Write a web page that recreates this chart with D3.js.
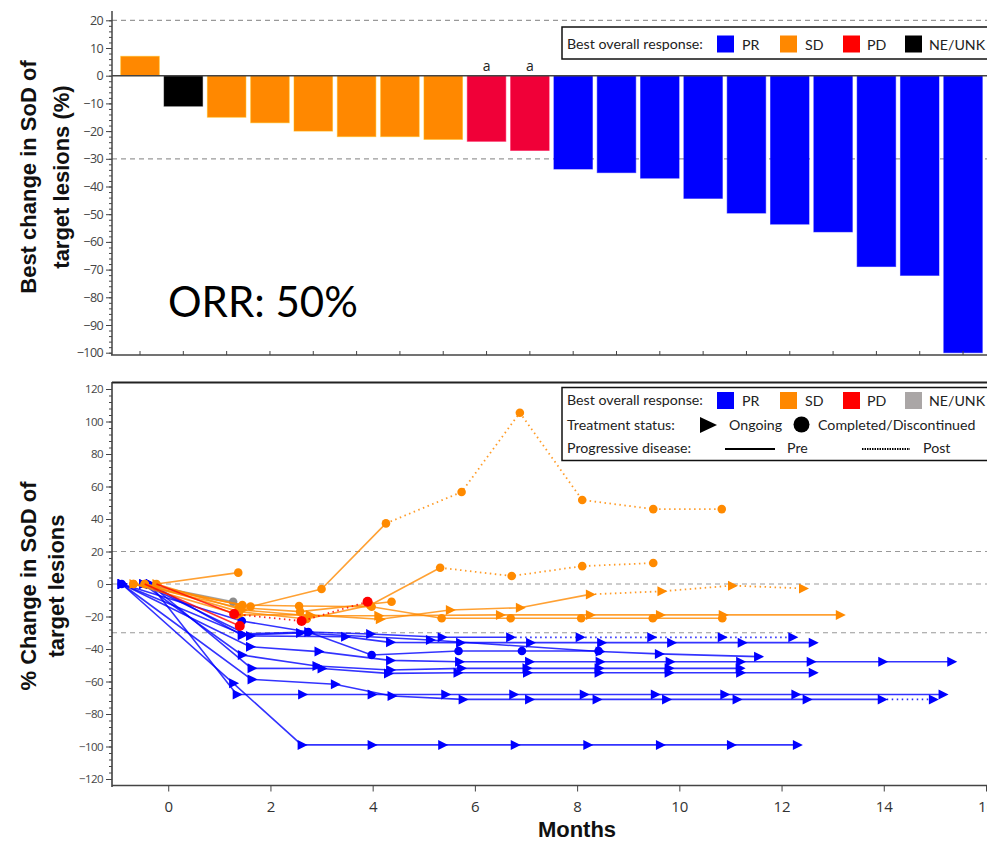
<!DOCTYPE html>
<html><head><meta charset="utf-8">
<script src="https://cdn.jsdelivr.net/npm/d3@7"></script>
<style>body{margin:0;background:#fff} svg{display:block}</style>
</head><body><svg id="c" width="987" height="841"></svg>
<script>
// ---------------- DATA ----------------
// Waterfall (best change in SoD, %)
const barPatients = d3.range(1, 21).map(d => "Pt" + d);
const barValues = [7, -11, -15, -17, -20, -22, -22, -23, -23.7, -27, -33.7, -35, -37, -44.3, -49.6, -53.6, -56.4, -68.9, -72.1, -100];
const barResponse = ["SD","NE","SD","SD","SD","SD","SD","SD","PD","PD","PR","PR","PR","PR","PR","PR","PR","PR","PR","PR"];
const barNotes = ["","","","","","","","","a","a","","","","","","","","","",""];
const topYTicks = [20, 10, 0, -10, -20, -30, -40, -50, -60, -70, -80, -90, -100];
const topRefLines = [20, -30];

// Spider plot: one small record per patient (months, % change, status, first post-PD segment index)
const prA = {resp:"PR", status:"ongoing", post:5, months:[-0.91,1.44,2.74,3.95,5.35,6.69,8.05,9.45,10.83,12.21], values:[0,-30.8,-29.5,-30.8,-32.8,-32.8,-32.8,-32.8,-32.8,-32.8]};
const prB = {resp:"PR", status:"ongoing", post:null, months:[-0.49,1.6,3.46,4.34,5.71,7.08,8.47,9.84,11.22,12.61], values:[0,-32,-32.4,-35.9,-36.1,-36.1,-36.1,-36.1,-36.1,-36.1]};
const prC = {resp:"PR", status:"done", post:null, months:[-0.91,1.44,2.74,3.98,5.68,6.92,8.42], values:[0,-22.8,-29.5,-43.7,-41.2,-41.2,-41.2]};
const prD = {resp:"PR", status:"ongoing", post:null, months:[-0.36,1.44,2.58,5.12,8.44,9.6,11.54], values:[0,-31.5,-30.2,-34.5,-41.5,-43,-44.7]};
const prE = {resp:"PR", status:"ongoing", post:null, months:[-0.91,1.6,2.94,4.34,5.69,7.06,8.44,9.81,11.19,12.57,13.97,15.32], values:[0,-38.6,-41.6,-47,-47.8,-47.8,-47.8,-47.8,-47.8,-47.8,-47.8,-47.8]};
const prF = {resp:"PR", status:"ongoing", post:null, months:[-0.49,1.44,2.9,4.34,5.73,7.01,8.42,9.79,11.18], values:[0,-43.7,-50.5,-52.9,-51.9,-51.9,-51.9,-51.9,-51.9]};
const prG = {resp:"PR", status:"ongoing", post:null, months:[-0.36,1.63,3.0,4.3,5.66,7.02,8.42,9.79,11.19,12.61], values:[0,-51.9,-52,-55,-54.6,-54.6,-54.6,-54.6,-54.6,-54.6]};
const prH = {resp:"PR", status:"ongoing", post:null, months:[-0.36,1.34,2.62,3.98,5.42,6.75,8.13,9.52,10.88,12.27,15.15], values:[0,-68,-68,-68,-68,-68,-68,-68,-68,-68,-68]};
const prI = {resp:"PR", status:"ongoing", post:10, months:[-0.91,1.63,3.26,4.37,5.76,7.06,8.38,9.74,11.12,12.49,13.96,14.96], values:[0,-58.7,-61.7,-68.9,-71,-71,-71,-71,-71,-71,-71,-71]};
const prJ = {resp:"PR", status:"ongoing", post:null, months:[-0.91,1.27,2.61,3.98,5.36,6.78,8.2,9.62,11.01,12.3], values:[0,-61,-99,-99,-99,-99,-99,-99,-99,-99]};
const sd1 = {resp:"SD", status:"done", post:3, months:[-0.68,1.61,3.0,4.26,5.74,6.88,8.1,9.49,10.83], values:[0,-13.9,-3.1,37.3,56.6,105.4,51.7,46.1,46.1]};
const sd2 = {resp:"SD", status:"done", post:null, months:[-0.23,1.37], values:[0,7]};
const sd3 = {resp:"SD", status:"done", post:4, months:[-0.46,1.38,2.71,3.95,5.32,6.72,8.1,9.49], values:[0,-17,-21.5,-13,10,4.9,11,12.9]};
const sd4 = {resp:"SD", status:"ongoing", post:6, months:[-0.68,1.4,2.77,4.14,5.51,6.88,8.25,9.65,11.03,12.42], values:[0,-19,-19,-21.7,-16,-14.6,-6.4,-4.5,-1,-2.7]};
const sd5 = {resp:"SD", status:"ongoing", post:null, months:[-0.23,1.45,2.77,4.11,6.49,8.25,9.62,10.85,13.14], values:[0,-16,-19.5,-19.5,-19,-19,-19,-19,-19]};
const sd6 = {resp:"SD", status:"done", post:null, months:[-0.46,1.45,2.56,3.98,5.35,6.7,8.08,9.48,10.84], values:[0,-13,-13.5,-14,-21.1,-21.1,-21.1,-21.1,-21.1]};
const sd7 = {resp:"SD", status:"done", post:null, months:[-0.68,1.38,2.58,4.37], values:[0,-14.5,-17,-10.9]};
const pd1 = {resp:"PD", status:"done", post:1, months:[-0.23,1.29,2.61,3.9], values:[0,-18.5,-22.8,-10.9]};
const pd2 = {resp:"PD", status:"done", post:null, months:[-0.46,1.4], values:[0,-25.8]};
const ne1 = {resp:"NE", status:"done", post:null, months:[-0.46,1.27], values:[0,-10.9]};
const spiderPatients = [prA,prB,prC,prD,prE,prF,prG,prH,prI,prJ, ne1, sd1,sd2,sd3,sd4,sd5,sd6,sd7, pd1,pd2];
const monthTicks = [0,2,4,6,8,10,12,14,16];
const spiderYTicks = [120,100,80,60,40,20,0,-20,-40,-60,-80,-100,-120];
const spiderRefLines = [20, 0, -30];

// ---------------- STYLE ----------------
const barColor = {PR:"#0000FF", SD:"#FF8800", PD:"#F00038", NE:"#000000"};
const lineColor = {PR:"#0000FF", SD:"#FF8A00", PD:"#FF0000", NE:"#8C8C8C"};
const legColor2 = {PR:"#0000FF", SD:"#FF8800", PD:"#FF0000", NE:"#AAA6A6"};
const tickFont = "'Open Sans', sans-serif";
const legFont = "Lato, 'Open Sans', sans-serif";
const legSize = 14.2;

const svg = d3.select("#c");

// ---------------- TOP: WATERFALL ----------------
const yT = d3.scaleLinear().domain([-100, 20]).range([352.7, 20.3]);
const xB = d3.scaleBand().domain(barPatients).range([118.35, 984.7]).paddingInner(0.11).paddingOuter(0.055);
const gT = svg.append("g");

topRefLines.forEach(v => gT.append("line").attr("x1",112).attr("x2",987).attr("y1",yT(v)).attr("y2",yT(v))
  .attr("stroke","#999").attr("stroke-width",1.2).attr("stroke-dasharray","5,4"));

gT.selectAll("rect.bar").data(barValues).join("rect").attr("class","bar")
  .attr("x",(d,i)=>xB(barPatients[i])).attr("width",xB.bandwidth())
  .attr("y",d=>yT(Math.max(d,0))).attr("height",d=>Math.abs(yT(d)-yT(0)))
  .attr("fill",(d,i)=>barColor[barResponse[i]])
  .attr("stroke",(d,i)=>d3.color(barColor[barResponse[i]]).brighter(0.8)).attr("stroke-opacity",0.5).attr("stroke-width",1);

gT.selectAll("text.note").data(barNotes).join("text").attr("class","note")
  .attr("x",(d,i)=>xB(barPatients[i])+xB.bandwidth()/2).attr("y",yT(0)-5)
  .attr("text-anchor","middle").attr("font-family",tickFont).attr("font-size",14).attr("fill","#222").text(d=>d);

// zero line
gT.append("line").attr("x1",112).attr("x2",987).attr("y1",yT(0)).attr("y2",yT(0)).attr("stroke","#444").attr("stroke-width",1.5);

// left axis
const axT = d3.axisLeft(yT).tickValues(topYTicks).tickSize(6).tickPadding(3);
const gAxT = gT.append("g").attr("transform","translate(112,0)").call(axT);
gAxT.select(".domain").remove();
gAxT.selectAll("text").attr("font-family",tickFont).attr("font-size",12.5).attr("fill","#444").attr("letter-spacing","-0.6");
gAxT.selectAll("line").attr("stroke","#444");
const gAxTm = gT.append("g").attr("transform","translate(112,0)").call(d3.axisLeft(yT).tickValues(d3.range(-100,21,2)).tickSize(3).tickFormat(""));
gAxTm.select(".domain").remove(); gAxTm.selectAll("line").attr("stroke","#444");
gT.append("line").attr("x1",112).attr("x2",112).attr("y1",11).attr("y2",355).attr("stroke","#444").attr("stroke-width",1.5);
// bottom axis with ticks at bar centres
gT.append("line").attr("x1",111).attr("x2",987).attr("y1",355).attr("y2",355).attr("stroke","#444").attr("stroke-width",1.5);
gT.selectAll("line.bt").data(barPatients).join("line").attr("class","bt")
  .attr("x1",d=>xB(d)+xB.bandwidth()/2).attr("x2",d=>xB(d)+xB.bandwidth()/2).attr("y1",355).attr("y2",351).attr("stroke","#444");

// y title
const tT = gT.append("text").attr("transform","translate(0,177) rotate(-90)").attr("text-anchor","middle")
  .attr("font-family","'Liberation Sans', Arial, sans-serif").attr("font-weight","bold").attr("font-size",22).attr("fill","#111");
tT.append("tspan").attr("x",0).attr("y",36).text("Best change in SoD of");
tT.append("tspan").attr("x",0).attr("y",69).text("target lesions (%)");

gT.append("text").attr("x",168).attr("y",317).attr("font-family",legFont).attr("font-size",42).attr("fill","#000").text("ORR: 50%");

// top legend
const lg1 = gT.append("g");
lg1.append("rect").attr("x",562).attr("y",27).attr("width",430).attr("height",32).attr("fill","#fff").attr("stroke","#111").attr("stroke-width",1.5);
lg1.append("text").attr("x",567).attr("y",48.5).attr("font-family",legFont).attr("font-size",legSize).attr("fill","#222").text("Best overall response:");
const leg1Items = [["PR",717,742],["SD",780,805],["PD",843,867],["NE",905,929]];
const leg1Labels = {PR:"PR",SD:"SD",PD:"PD",NE:"NE/UNK"};
leg1Items.forEach(([k,xs,xt])=>{
  lg1.append("rect").attr("x",xs).attr("y",35.5).attr("width",17).attr("height",17).attr("fill",k==="PD"?"#FF0000":barColor[k]);
  lg1.append("text").attr("x",xt).attr("y",49.5).attr("font-family",legFont).attr("font-size",legSize).attr("fill","#222").text(leg1Labels[k]);
});

// ---------------- BOTTOM: SPIDER ----------------
const xS = d3.scaleLinear().domain([-1.1, 16]).range([112, 986]);
const yS = d3.scaleLinear().domain([-124, 124]).range([785.5, 382.5]);
const gB = svg.append("g");

spiderRefLines.forEach(v => gB.append("line").attr("x1",112).attr("x2",987).attr("y1",yS(v)).attr("y2",yS(v))
  .attr("stroke","#999").attr("stroke-width",1.2).attr("stroke-dasharray","5,4"));

const line = d3.line().x(d=>xS(d[0])).y(d=>yS(d[1]));
const triPath = "M-4,-5L6,0L-4,5Z";
spiderPatients.forEach(p=>{
  const pts = p.months.map((m,i)=>[m,p.values[i]]);
  const col = lineColor[p.resp];
  const g = gB.append("g");
  const cut = p.post===null ? pts.length-1 : p.post;
  g.append("path").attr("d",line(pts.slice(0,cut+1))).attr("fill","none").attr("stroke",col).attr("stroke-width",1.6).attr("stroke-opacity",0.8);
  if (p.post!==null) g.append("path").attr("d",line(pts.slice(cut))).attr("fill","none").attr("stroke",col)
    .attr("stroke-width",1.8).attr("stroke-dasharray","1.5,3.5").attr("stroke-opacity",0.85);
  pts.forEach((q,i)=>{
    if (i===0 && (p.resp==="PD" || p.resp==="NE")) return; // baseline hidden under other markers
    if (p.status==="ongoing") g.append("path").attr("d",triPath).attr("transform",`translate(${xS(q[0])},${yS(q[1])})`).attr("fill",col);
    else g.append("circle").attr("cx",xS(q[0])).attr("cy",yS(q[1])).attr("r",p.resp==="PD"?5:4.3).attr("fill",col);
  });
});

// frame & axes
gB.append("line").attr("x1",112).attr("x2",987).attr("y1",382.5).attr("y2",382.5).attr("stroke","#222").attr("stroke-width",2);
gB.append("line").attr("x1",112).attr("x2",112).attr("y1",382).attr("y2",787).attr("stroke","#333").attr("stroke-width",1.5);
gB.append("line").attr("x1",112).attr("x2",987).attr("y1",785.5).attr("y2",785.5).attr("stroke","#444").attr("stroke-width",1.5);
const axBy = gB.append("g").attr("transform","translate(112,0)").call(d3.axisLeft(yS).tickValues(spiderYTicks).tickSize(6).tickPadding(3));
axBy.select(".domain").remove();
axBy.selectAll("text").attr("font-family",tickFont).attr("font-size",11.5).attr("fill","#444").attr("letter-spacing","-0.6");
axBy.selectAll("line").attr("stroke","#444");
const axBym = gB.append("g").attr("transform","translate(112,0)").call(d3.axisLeft(yS).tickValues(d3.range(-120,121,4)).tickSize(3).tickFormat(""));
axBym.select(".domain").remove(); axBym.selectAll("line").attr("stroke","#444");
const axBx = gB.append("g").attr("transform","translate(0,785.5)").call(d3.axisBottom(xS).tickValues(monthTicks).tickSize(6).tickPadding(10));
axBx.select(".domain").remove();
axBx.selectAll("text").attr("font-family",tickFont).attr("font-size",15).attr("fill","#333");
axBx.selectAll("line").attr("stroke","#444");

const tB = gB.append("text").attr("transform","translate(0,586) rotate(-90)").attr("text-anchor","middle")
  .attr("font-family","'Liberation Sans', Arial, sans-serif").attr("font-weight","bold").attr("font-size",22).attr("fill","#111");
tB.append("tspan").attr("x",0).attr("y",36).text("% Change in SoD of");
tB.append("tspan").attr("x",0).attr("y",64).text("target lesions");
gB.append("text").attr("x",577).attr("y",837).attr("text-anchor","middle").attr("font-family","'Liberation Sans', Arial, sans-serif")
  .attr("font-weight","bold").attr("font-size",22).attr("fill","#111").text("Months");

// bottom legend
const lg2 = gB.append("g");
lg2.append("rect").attr("x",562).attr("y",387.5).attr("width",430).attr("height",73).attr("fill","#fff").attr("stroke","#111").attr("stroke-width",1.5);
const lt = (x,y,s)=>lg2.append("text").attr("x",x).attr("y",y).attr("font-family",legFont).attr("font-size",legSize).attr("fill","#222").text(s);
lt(567,405,"Best overall response:");
leg1Items.forEach(([k,xs,xt])=>{
  lg2.append("rect").attr("x",xs).attr("y",392).attr("width",17).attr("height",17).attr("fill",legColor2[k]);
  lt(xt,406,leg1Labels[k]);
});
lt(567,430,"Treatment status:");
lg2.append("path").attr("d","M0,-8L17,0L0,8Z").attr("transform","translate(700,425)").attr("fill","#000");
lt(729,430,"Ongoing");
lg2.append("circle").attr("cx",801.5).attr("cy",424.5).attr("r",8).attr("fill","#000");
lt(818,430,"Completed/Discontinued");
lt(567,453,"Progressive disease:");
lg2.append("line").attr("x1",725).attr("x2",775).attr("y1",449).attr("y2",449).attr("stroke","#000").attr("stroke-width",2);
lt(787,453,"Pre");
lg2.append("line").attr("x1",862).attr("x2",910).attr("y1",449).attr("y2",449).attr("stroke","#000").attr("stroke-width",2).attr("stroke-dasharray","1.5,1");
lt(923,453,"Post");
</script></body></html>
